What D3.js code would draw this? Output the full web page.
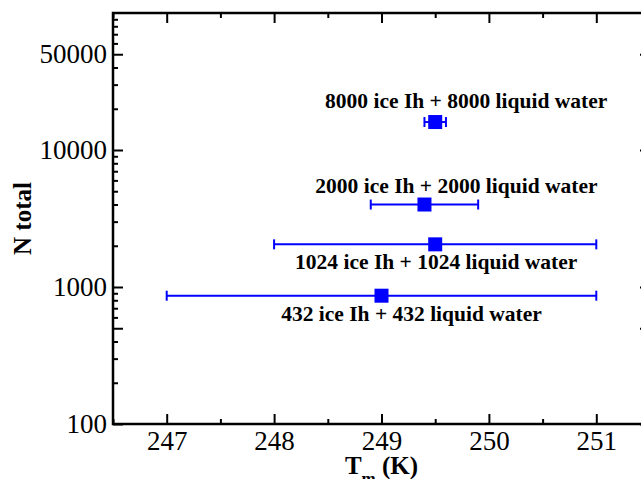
<!DOCTYPE html>
<html>
<head>
<meta charset="utf-8">
<script src="https://cdn.jsdelivr.net/npm/d3@7"></script>
<style>
  body { margin: 0; background: #fff; }
</style>
</head>
<body>
<div id="chart"></div>
<script>
// Data: melting temperature vs. total system size
const systemLabels = [
  "8000 ice Ih + 8000 liquid water",
  "2000 ice Ih + 2000 liquid water",
  "1024 ice Ih + 1024 liquid water",
  "432 ice Ih + 432 liquid water"
];
const nTotal = [16000, 4000, 2048, 864];
const tMelt = [249.5, 249.4, 249.5, 249.0];
const tErr = [0.1, 0.5, 1.5, 2.0];

// Tick values
const xMajor = [247, 248, 249, 250, 251];
const xMinor = [246.5, 247.5, 248.5, 249.5, 250.5, 251.5];
const yLabelled = [100, 1000, 10000, 50000];
const yMajor = [100, 500, 1000, 10000, 50000];
const yMinor = [200, 300, 400, 600, 700, 800, 900,
  2000, 3000, 4000, 5000, 6000, 7000, 8000, 9000,
  20000, 30000, 40000, 60000, 70000, 80000, 90000];

const FONT = "'Liberation Serif', 'Times New Roman', Times, serif";

const W = 641, H = 479;
const margin = {top: 13, right: -9, bottom: 55, left: 113};
const width = W - margin.left - margin.right,
    height = H - margin.top - margin.bottom;

const svg = d3.select("#chart")
  .append("svg")
    .attr("width", W)
    .attr("height", H)
    .style("font-family", FONT)
  .append("g")
    .attr("transform", `translate(${margin.left},${margin.top})`);

const x = d3.scaleLinear()
  .domain([246.5, 251.5])
  .range([0, width]);

const y = d3.scaleLog()
  .domain([100, 100000])
  .range([height, 0]);

// helper to style an axis group
function styleAxis(g) {
  g.attr("font-family", null);
  g.select(".domain").remove();
  g.selectAll("line").attr("stroke", "#000").attr("stroke-width", 2);
  g.selectAll("text")
    .attr("fill", "#000")
    .style("font-family", FONT)
    .style("font-size", "27px");
}

// bottom axis with labels
svg.append("g")
  .attr("transform", `translate(0,${height})`)
  .call(d3.axisBottom(x).tickValues(xMajor).tickFormat(d3.format("d"))
    .tickSize(-10).tickSizeOuter(0).tickPadding(7))
  .call(styleAxis);
svg.append("g")
  .attr("transform", `translate(0,${height})`)
  .call(d3.axisBottom(x).tickValues(xMinor).tickFormat("").tickSize(-5).tickSizeOuter(0))
  .call(styleAxis);

// top axis, ticks only
svg.append("g")
  .call(d3.axisTop(x).tickValues(xMajor).tickFormat("").tickSize(-10).tickSizeOuter(0))
  .call(styleAxis);
svg.append("g")
  .call(d3.axisTop(x).tickValues(xMinor).tickFormat("").tickSize(-5).tickSizeOuter(0))
  .call(styleAxis);

// left axis
svg.append("g")
  .call(d3.axisLeft(y).tickValues(yLabelled).tickFormat(d3.format("d"))
    .tickSize(0).tickPadding(6))
  .call(styleAxis);
svg.append("g")
  .call(d3.axisLeft(y).tickValues(yMajor).tickFormat("").tickSize(-10).tickSizeOuter(0))
  .call(styleAxis);
svg.append("g")
  .call(d3.axisLeft(y).tickValues(yMinor).tickFormat("").tickSize(-5).tickSizeOuter(0))
  .call(styleAxis);

// right axis, ticks only
svg.append("g")
  .attr("transform", `translate(${width},0)`)
  .call(d3.axisRight(y).tickValues(yMajor).tickFormat("").tickSize(-10).tickSizeOuter(0))
  .call(styleAxis);
svg.append("g")
  .attr("transform", `translate(${width},0)`)
  .call(d3.axisRight(y).tickValues(yMinor).tickFormat("").tickSize(-5).tickSizeOuter(0))
  .call(styleAxis);

// frame
svg.append("rect")
  .attr("width", width)
  .attr("height", height)
  .attr("fill", "none")
  .attr("stroke", "#000")
  .attr("stroke-width", 2.5);

const points = nTotal.map((n, i) => ({n: n, t: tMelt[i], e: tErr[i], label: systemLabels[i]}));

// error bars
const bars = svg.append("g").selectAll("g")
  .data(points)
  .join("g")
    .attr("stroke", "#0000ff")
    .attr("stroke-width", 2);
bars.append("line")
  .attr("x1", d => x(d.t - d.e))
  .attr("x2", d => x(d.t + d.e))
  .attr("y1", d => y(d.n))
  .attr("y2", d => y(d.n));
bars.append("line")
  .attr("x1", d => x(d.t - d.e))
  .attr("x2", d => x(d.t - d.e))
  .attr("y1", d => y(d.n) - 5)
  .attr("y2", d => y(d.n) + 5);
bars.append("line")
  .attr("x1", d => x(d.t + d.e))
  .attr("x2", d => x(d.t + d.e))
  .attr("y1", d => y(d.n) - 5)
  .attr("y2", d => y(d.n) + 5);

// square markers
const sq = 14;
svg.append("g").selectAll("rect")
  .data(points)
  .join("rect")
    .attr("x", d => x(d.t) - sq / 2)
    .attr("y", d => y(d.n) - sq / 2)
    .attr("width", sq)
    .attr("height", sq)
    .attr("fill", "#0000ff");

// annotation offsets from each point (pixels)
const labelShift = [[31, -14], [32, -12], [1, 25], [30, 25]];
svg.append("g").selectAll("text")
  .data(points)
  .join("text")
    .attr("x", (d, i) => x(d.t) + labelShift[i][0])
    .attr("y", (d, i) => y(d.n) + labelShift[i][1])
    .attr("text-anchor", "middle")
    .style("font-family", FONT)
    .style("font-size", "21.5px")
    .style("font-weight", "bold")
    .text(d => d.label);

// axis titles
svg.append("text")
  .attr("transform", `translate(${22 - margin.left},${height / 2}) rotate(-90)`)
  .attr("text-anchor", "middle")
  .attr("dy", "0.35em")
  .style("font-family", FONT)
  .style("font-size", "25px")
  .style("font-weight", "bold")
  .text("N total");

const xt = svg.append("text")
  .attr("x", width / 2)
  .attr("y", height + 50)
  .attr("text-anchor", "middle")
  .style("font-family", FONT)
  .style("font-size", "25px")
  .style("font-weight", "bold");
xt.append("tspan").text("T");
xt.append("tspan").attr("dy", 10).style("font-size", "17px").text("m");
xt.append("tspan").attr("dy", -10).text(" (K)");
</script>
</body>
</html>
